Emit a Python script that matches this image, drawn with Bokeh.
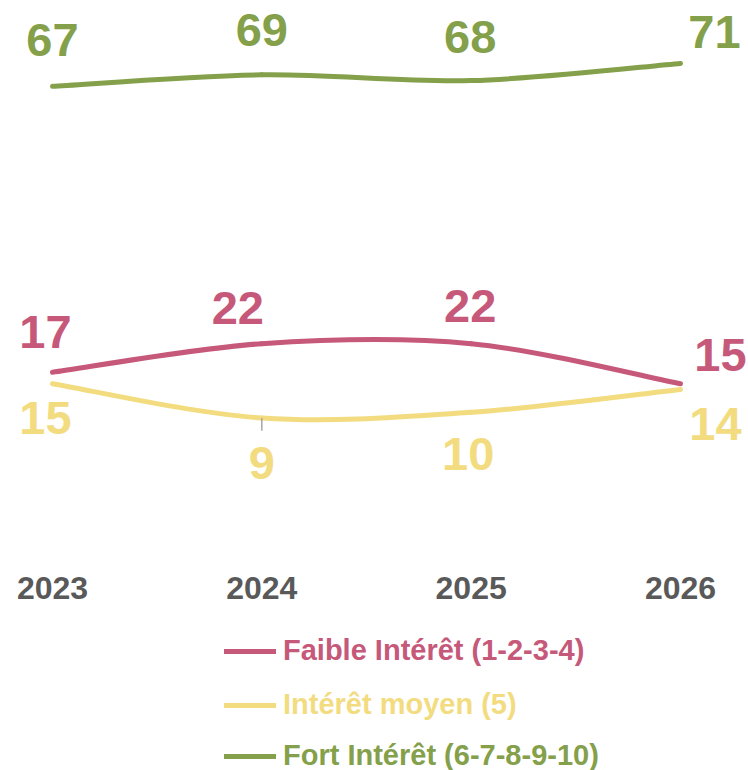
from bokeh.plotting import figure
from bokeh.models import (ColumnDataSource, FixedTicker, Legend, LegendItem,
                          Range1d, LinearAxis)
from bokeh.core.properties import value
from bokeh.embed import file_html
from bokeh.resources import INLINE

# ---- data ----
years = ["2023", "2024", "2025", "2026"]
faible = [17, 22, 22, 15]
moyen = [15, 9, 10, 14]
fort = [67, 69, 68, 71]
series_names = ["Faible Intérêt (1-2-3-4)", "Intérêt moyen (5)", "Fort Intérêt (6-7-8-9-10)"]

# ---- style ----
colors = ["#C6587A", "#F2DC7F", "#84A04A"]
FONT = "Liberation Sans"
label_dx = [[-7, -24, -1, 40], [-7, 0, -3, 35], [0, 0, -1, 34]]
label_dy = [[40, 36, 38, 29], [-34, -45, -42, -35], [46, 45, 44, 31]]

W, H = 748, 770
p = figure(width=W, height=H, output_backend="svg", toolbar_location=None,
           x_range=Range1d(-0.2484, 3.3249), y_range=Range1d(-52.62, 82.0),
           x_axis_location=None, y_axis_location=None,
           min_border_left=0, min_border_right=0, min_border_top=0,
           min_border_bottom=0)
p.outline_line_color = None
p.grid.visible = False
p.background_fill_color = None
p.border_fill_color = "white"

xs = list(range(len(years)))


def catmull_bezier(vals):
    n = len(vals)
    d = dict(x0=[], y0=[], x1=[], y1=[], cx0=[], cy0=[], cx1=[], cy1=[])
    for i in range(n - 1):
        pm = (xs[max(i - 1, 0)], vals[max(i - 1, 0)])
        p0 = (xs[i], vals[i])
        p1 = (xs[i + 1], vals[i + 1])
        p2 = (xs[min(i + 2, n - 1)], vals[min(i + 2, n - 1)])
        d["x0"].append(p0[0]); d["y0"].append(p0[1])
        d["x1"].append(p1[0]); d["y1"].append(p1[1])
        d["cx0"].append(p0[0] + (p1[0] - pm[0]) / 6)
        d["cy0"].append(p0[1] + (p1[1] - pm[1]) / 6)
        d["cx1"].append(p1[0] - (p2[0] - p0[0]) / 6)
        d["cy1"].append(p1[1] - (p2[1] - p0[1]) / 6)
    return ColumnDataSource(d)


renderers = []
for vals, col in zip([faible, moyen, fort], colors):
    r = p.bezier(x0="x0", y0="y0", x1="x1", y1="y1", cx0="cx0", cy0="cy0",
                 cx1="cx1", cy1="cy1", source=catmull_bezier(vals),
                 line_color=col, line_width=5, line_cap="round")
    renderers.append(r)

# small leader tick under the 2024 "moyen" point
p.segment(x0=[xs[1]], y0=[moyen[1]], x1=[xs[1]], y1=[moyen[1] - 2.2],
          line_color="#A6A6A6", line_width=1.5)

for vals, col, dx, dy in zip([faible, moyen, fort], colors, label_dx, label_dy):
    src = ColumnDataSource(dict(x=xs, y=vals, t=[str(v) for v in vals],
                                dx=dx, dy=[-v for v in dy]))
    p.text(x="x", y="y", text="t", x_offset="dx", y_offset="dy", source=src,
           text_color=col, text_font=value(FONT), text_font_style="bold",
           text_font_size="47px", text_align="center", text_baseline="middle")

ax = LinearAxis(fixed_location=-15.56)
ax.ticker = FixedTicker(ticks=xs)
ax.major_label_overrides = {i: y for i, y in enumerate(years)}
ax.axis_line_color = None
ax.major_tick_line_color = None
ax.minor_tick_line_color = None
ax.major_tick_out = 0
ax.major_tick_in = 0
ax.major_label_standoff = 18
ax.major_label_text_font = FONT
ax.major_label_text_font_style = "bold"
ax.major_label_text_font_size = "32px"
ax.major_label_text_color = "#595959"
p.add_layout(ax, "below")

legend_y = [103, 49, -2]
for name, r, col, ly in zip(series_names, renderers, colors, legend_y):
    lg = Legend(items=[LegendItem(label=name, renderers=[r])],
                location=(224, ly), padding=0, margin=0,
                glyph_width=52, glyph_height=30, label_height=30,
                label_standoff=7, border_line_color=None,
                background_fill_alpha=0,
                label_text_font=FONT, label_text_font_style="bold",
                label_text_font_size="29px", label_text_color=col)
    p.add_layout(lg, "center")

open("out.html", "w").write(file_html(p, INLINE))
